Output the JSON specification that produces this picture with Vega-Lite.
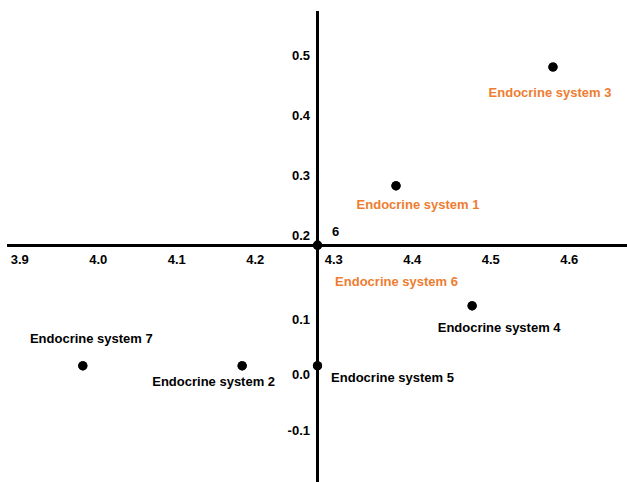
{
  "$schema": "https://vega.github.io/schema/vega-lite/v6.json",
  "width": 627,
  "height": 482,
  "padding": 0,
  "autosize": {"type": "none"},
  "background": "white",
  "config": {
    "view": {"stroke": null},
    "font": "Liberation Sans",
    "text": {"font": "Liberation Sans", "fontSize": 13, "fontWeight": "bold"},
    "axis": {
      "title": null, "domain": false, "ticks": false, "tickSize": 0, "grid": false,
      "labelFont": "Liberation Sans", "labelFontSize": 13, "labelFontWeight": "bold", "labelColor": "black",
      "labelPadding": 8, "labelFlush": false, "labelOverlap": false
    }
  },
  "data": {
    "values": [
      {"name": "Endocrine system 1", "id": "1", "x": 4.38, "y": 0.282},
      {"name": "Endocrine system 2", "id": "2", "x": 4.184, "y": -0.018},
      {"name": "Endocrine system 3", "id": "3", "x": 4.58, "y": 0.48},
      {"name": "Endocrine system 4", "id": "4", "x": 4.477, "y": 0.082},
      {"name": "Endocrine system 5", "id": "5", "x": 4.28, "y": -0.018},
      {"name": "Endocrine system 6", "id": "6", "x": 4.28, "y": 0.183},
      {"name": "Endocrine system 7", "id": "7", "x": 3.981, "y": -0.018}
    ]
  },
  "layer": [
    {
      "mark": {"type": "point", "filled": true, "color": "black", "opacity": 1, "size": 85},
      "encoding": {
        "x": {
          "field": "x", "type": "quantitative",
          "scale": {"domain": [3.8755, 4.6743], "nice": false, "zero": false},
          "axis": {
            "orient": "bottom", "offset": -236.5, "title": null,
            "values": [3.9, 4.0, 4.1, 4.2, 4.3, 4.4, 4.5, 4.6],
            "labelExpr": "format(datum.value, '.1f')"
          }
        },
        "y": {
          "field": "y", "type": "quantitative",
          "scale": {"domain": [-0.2117, 0.5917], "nice": false, "zero": false},
          "axis": {
            "orient": "left", "offset": -317.5, "title": null,
            "values": [-0.1, 0.0, 0.1, 0.2, 0.3, 0.4, 0.5],
            "labelExpr": "datum.value < 0 ? '-' + format(-datum.value, '.1f') : format(datum.value, '.1f')",
            "labelOffset": {
              "condition": [
                {"test": "datum.value > 0.05 && datum.value < 0.15", "value": 25},
                {"test": "datum.value > -0.05 && datum.value < 0.05", "value": 20},
                {"test": "datum.value < -0.05", "value": 16}
              ],
              "value": 0
            }
          }
        }
      }
    },
    {
      "mark": {"type": "rule", "color": "black", "strokeWidth": 2.5},
      "encoding": {
        "y": {"datum": 0.183, "type": "quantitative"},
        "x": {"datum": 3.885, "type": "quantitative"},
        "x2": {"datum": 4.6743}
      }
    },
    {
      "mark": {"type": "rule", "color": "black", "strokeWidth": 2.5},
      "encoding": {
        "x": {"datum": 4.28, "type": "quantitative"},
        "y": {"datum": 0.5733, "type": "quantitative"},
        "y2": {"datum": -0.2117}
      }
    },
    {
      "mark": {"type": "point", "filled": true, "color": "black", "opacity": 1, "size": 85},
      "encoding": {
        "x": {"field": "x", "type": "quantitative"},
        "y": {"field": "y", "type": "quantitative"}
      }
    },
    {
      "transform": [{"filter": "datum.id == '3'"}],
      "mark": {"type": "text", "color": "#ED7D31", "dx": -3, "dy": 26},
      "encoding": {
        "x": {"field": "x", "type": "quantitative"},
        "y": {"field": "y", "type": "quantitative"},
        "text": {"field": "name"}
      }
    },
    {
      "transform": [{"filter": "datum.id == '1'"}],
      "mark": {"type": "text", "color": "#ED7D31", "dx": 22, "dy": 19},
      "encoding": {
        "x": {"field": "x", "type": "quantitative"},
        "y": {"field": "y", "type": "quantitative"},
        "text": {"field": "name"}
      }
    },
    {
      "transform": [{"filter": "datum.id == '6'"}],
      "mark": {"type": "text", "color": "#ED7D31", "dx": 79, "dy": 37},
      "encoding": {
        "x": {"field": "x", "type": "quantitative"},
        "y": {"field": "y", "type": "quantitative"},
        "text": {"field": "name"}
      }
    },
    {
      "transform": [{"filter": "datum.id == '6'"}],
      "mark": {"type": "text", "color": "black", "dx": 18, "dy": -13},
      "encoding": {
        "x": {"field": "x", "type": "quantitative"},
        "y": {"field": "y", "type": "quantitative"},
        "text": {"field": "id"}
      }
    },
    {
      "transform": [{"filter": "datum.id == '7'"}],
      "mark": {"type": "text", "color": "black", "dx": 8.5, "dy": -27},
      "encoding": {
        "x": {"field": "x", "type": "quantitative"},
        "y": {"field": "y", "type": "quantitative"},
        "text": {"field": "name"}
      }
    },
    {
      "transform": [{"filter": "datum.id == '2'"}],
      "mark": {"type": "text", "color": "black", "dx": -28.5, "dy": 16},
      "encoding": {
        "x": {"field": "x", "type": "quantitative"},
        "y": {"field": "y", "type": "quantitative"},
        "text": {"field": "name"}
      }
    },
    {
      "transform": [{"filter": "datum.id == '5'"}],
      "mark": {"type": "text", "color": "black", "dx": 75, "dy": 12},
      "encoding": {
        "x": {"field": "x", "type": "quantitative"},
        "y": {"field": "y", "type": "quantitative"},
        "text": {"field": "name"}
      }
    },
    {
      "transform": [{"filter": "datum.id == '4'"}],
      "mark": {"type": "text", "color": "black", "dx": 27, "dy": 22},
      "encoding": {
        "x": {"field": "x", "type": "quantitative"},
        "y": {"field": "y", "type": "quantitative"},
        "text": {"field": "name"}
      }
    }
  ]
}
